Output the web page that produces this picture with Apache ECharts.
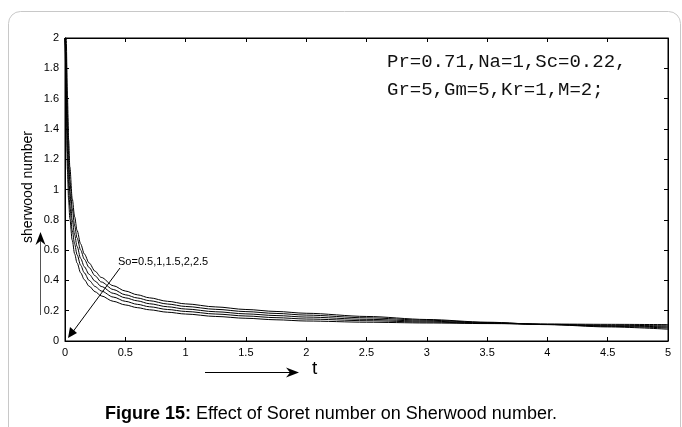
<!DOCTYPE html>
<html>
<head>
<meta charset="utf-8">
<script src="https://cdn.jsdelivr.net/npm/echarts@6/dist/echarts.min.js"></script>
<style>
  html, body { margin: 0; padding: 0; background: #fff; }
  #chart { width: 682px; height: 427px; }
</style>
</head>
<body>
<div id="chart"></div>
<script>
// t values (x axis)
const tValues = [0, 0.005, 0.01, 0.02, 0.03, 0.04, 0.06, 0.08, 0.1, 0.13, 0.16, 0.2, 0.25, 0.3, 0.4,
  0.5, 0.6, 0.7, 0.85, 1, 1.25, 1.5, 1.75, 2, 2.5, 3, 3.5, 4, 4.5, 5]

// sherwood number, one curve per So value
const shA = [2.0, 2.0, 2.0, 1.62, 1.33, 1.15, 0.94, 0.82, 0.73, 0.64, 0.575, 0.515, 0.46, 0.42, 0.365,
  0.33, 0.305, 0.285, 0.262, 0.245, 0.225, 0.208, 0.195, 0.183, 0.162, 0.142, 0.124, 0.108, 0.093, 0.078]
const shB = [2.0, 2.0, 1.9, 1.5, 1.23, 1.06, 0.875, 0.76, 0.68, 0.6, 0.54, 0.485, 0.43, 0.39, 0.34,
  0.305, 0.284, 0.266, 0.244, 0.228, 0.209, 0.194, 0.182, 0.171, 0.153, 0.137, 0.122, 0.109, 0.097, 0.086]
const shC = [2.0, 2.0, 1.8, 1.38, 1.13, 0.98, 0.8, 0.7, 0.625, 0.545, 0.49, 0.44, 0.395, 0.36, 0.315,
  0.285, 0.265, 0.246, 0.226, 0.211, 0.193, 0.179, 0.168, 0.158, 0.143, 0.131, 0.119, 0.109, 0.1, 0.093]
const shD = [2.0, 2.0, 1.7, 1.25, 1.03, 0.89, 0.73, 0.64, 0.57, 0.5, 0.45, 0.4, 0.36, 0.33, 0.29,
  0.262, 0.242, 0.226, 0.208, 0.195, 0.178, 0.165, 0.154, 0.145, 0.134, 0.125, 0.117, 0.11, 0.104, 0.1]
const shE = [2.0, 1.95, 1.6, 1.13, 0.93, 0.81, 0.665, 0.575, 0.515, 0.45, 0.405, 0.362, 0.325, 0.298, 0.262,
  0.238, 0.22, 0.206, 0.19, 0.178, 0.162, 0.15, 0.14, 0.132, 0.124, 0.119, 0.115, 0.112, 0.11, 0.108]

const curves = [shA, shB, shC, shD, shE]

const paramLines = ['Pr=0.71,Na=1,Sc=0.22,', 'Gr=5,Gm=5,Kr=1,M=2;']
const soLabel = 'So=0.5,1,1.5,2,2.5'

const font = '"Liberation Sans", Arial, sans-serif'
const monoFont = '19px "Liberation Mono", "Courier New", monospace'

const chart = echarts.init(document.getElementById('chart'))

const axisCommon = {
  axisLine: { show: true, onZero: false, lineStyle: { color: '#000', width: 1 } },
  axisTick: { show: true, inside: true, length: 4, lineStyle: { color: '#000' } },
  splitLine: { show: false }
}

const option = {
  animation: false,
  grid: { left: 65, right: 14, top: 38, bottom: 86, show: true, borderColor: '#000', borderWidth: 1 },
  xAxis: [
    {
      type: 'value', min: 0, max: 5, interval: 0.5,
      ...axisCommon,
      axisLabel: { color: '#000', fontSize: 11, fontFamily: font, margin: 6 }
    },
    {
      type: 'value', min: 0, max: 5, interval: 0.5, position: 'top',
      ...axisCommon,
      axisLabel: { show: false }
    }
  ],
  yAxis: [
    {
      type: 'value', min: 0, max: 2, interval: 0.2,
      ...axisCommon,
      axisLabel: { color: '#000', fontSize: 11, fontFamily: font, margin: 6 }
    },
    {
      type: 'value', min: 0, max: 2, interval: 0.2, position: 'right',
      ...axisCommon,
      axisLabel: { show: false }
    }
  ],
  series: curves.map((vals, i) => ({
    name: 'So' + i,
    type: 'line',
    data: tValues.map((t, k) => [t, vals[k]]),
    symbol: 'none',
    smooth: 0.3,
    smoothMonotone: 'x',
    clip: true,
    lineStyle: { color: '#000', width: 1 }
  })),
  graphic: [
    // page frame
    {
      type: 'rect', silent: true,
      shape: { x: 8.5, y: 11.5, width: 672, height: 440, r: [12, 12, 0, 0] },
      style: { fill: 'none', stroke: '#c8c8c8', lineWidth: 1 }
    },
    {
      type: 'text', left: 387, top: 52,
      style: { text: paramLines[0], font: monoFont, fill: '#111' }
    },
    {
      type: 'text', left: 387, top: 80,
      style: { text: paramLines[1], font: monoFont, fill: '#111' }
    },
    {
      type: 'text', left: 118, top: 256,
      style: { text: soLabel, font: '11px ' + font, fill: '#000' }
    },
    // So arrow
    { type: 'line', shape: { x1: 120, y1: 268, x2: 72, y2: 333 }, style: { stroke: '#000', lineWidth: 1 } },
    { type: 'polygon', shape: { points: [[68, 338], [70, 327], [77, 333]] }, style: { fill: '#000' } },
    // y axis name and arrow
    {
      type: 'text', x: 28, y: 187, rotation: Math.PI / 2,
      style: { text: 'sherwood number', font: '14px ' + font, fill: '#000', align: 'center', verticalAlign: 'middle' }
    },
    { type: 'line', shape: { x1: 40.5, y1: 315, x2: 40.5, y2: 240 }, style: { stroke: '#555', lineWidth: 1 } },
    { type: 'polygon', shape: { points: [[40.5, 232], [35.5, 245], [40.5, 241], [45.5, 245]] }, style: { fill: '#000' } },
    // x axis name and arrow
    { type: 'line', shape: { x1: 205, y1: 372.5, x2: 292, y2: 372.5 }, style: { stroke: '#000', lineWidth: 1 } },
    { type: 'polygon', shape: { points: [[299, 372.5], [286, 367.5], [290, 372.5], [286, 377.5]] }, style: { fill: '#000' } },
    {
      type: 'text', left: 312, top: 359,
      style: { text: 't', font: '19px ' + font, fill: '#000' }
    },
    // caption
    {
      type: 'text', left: 105, top: 405,
      style: {
        text: '{b|Figure 15:} Effect of Soret number on Sherwood number.',
        font: '18px ' + font, fill: '#000',
        rich: { b: { fontWeight: 'bold', fontSize: 18, fontFamily: font, fill: '#000' } }
      }
    }
  ]
}

chart.setOption(option)

window.addEventListener('resize', () => chart.resize())
</script>
</body>
</html>
